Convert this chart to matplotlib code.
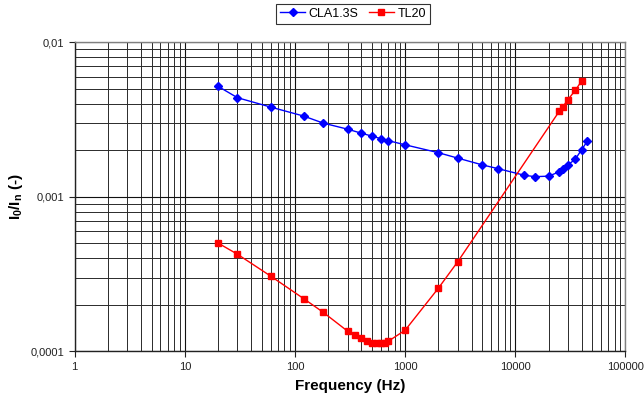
import matplotlib
matplotlib.use("Agg")
import matplotlib.pyplot as plt
from matplotlib.ticker import LogLocator, FixedLocator, FixedFormatter, NullFormatter

plt.rcParams['font.family'] = ['Liberation Sans', 'DejaVu Sans']
plt.rcParams['mathtext.fontset'] = 'custom'
plt.rcParams['mathtext.rm'] = 'Liberation Sans'
plt.rcParams['mathtext.bf'] = 'Liberation Sans:bold'
plt.rcParams['mathtext.it'] = 'Liberation Sans:italic'

# Data
cla_freq = [20, 30, 60, 120, 180, 300, 400, 500, 600, 700, 1000, 2000, 3000,
            5000, 7000, 12000, 15000, 20000, 25000, 27000, 30000, 35000, 40000, 45000]
cla_vals = [0.00519, 0.00438, 0.00381, 0.00333, 0.00300, 0.00274, 0.00258, 0.00247,
            0.00238, 0.00231, 0.00217, 0.00193, 0.00178, 0.00161, 0.00152, 0.00138,
            0.00135, 0.00136, 0.00145, 0.00151, 0.00161, 0.00175, 0.00202, 0.00229]

tl_freq = [20, 30, 60, 120, 180, 300, 350, 400, 450, 500, 550, 600, 650, 700, 1000,
           2000, 3000, 25000, 27000, 30000, 35000, 40000]
tl_vals = [0.000502, 0.000425, 0.000307, 0.000219, 0.000179, 0.000135, 0.000127,
           0.000122, 0.000117, 0.000114, 0.000113, 0.000113, 0.000114, 0.000116,
           0.000137, 0.000256, 0.000380, 0.00357, 0.00383, 0.00425, 0.00489, 0.00562]

x_ticks = [1, 10, 100, 1000, 10000, 100000]
x_labels = ["1", "10", "100", "1000", "10000", "100000"]
y_ticks = [0.0001, 0.001, 0.01]
y_labels = ["0,0001", "0,001", "0,01"]

fig = plt.figure(figsize=(6.44, 4.03), dpi=100)
ax = fig.add_axes([74.7/644, 1-351.3/403, (625.5-74.7)/644, (351.3-42.3)/403])

ax.set_xscale('log')
ax.set_yscale('log')
ax.set_xlim(1, 100000)
ax.set_ylim(0.0001, 0.01)

ax.plot(cla_freq, cla_vals, color='#0000FF', marker='D', markersize=4.5, lw=1.0,
        label='CLA1.3S')
ax.plot(tl_freq, tl_vals, color='#FF0000', marker='s', markersize=4.2, lw=1.0,
        label='TL20')

ax.xaxis.set_major_locator(FixedLocator(x_ticks))
ax.xaxis.set_major_formatter(FixedFormatter(x_labels))
ax.yaxis.set_major_locator(FixedLocator(y_ticks))
ax.yaxis.set_major_formatter(FixedFormatter(y_labels))
ax.xaxis.set_minor_locator(LogLocator(base=10, subs=range(2, 10), numticks=20))
ax.yaxis.set_minor_locator(LogLocator(base=10, subs=range(2, 10), numticks=20))
ax.xaxis.set_minor_formatter(NullFormatter())
ax.yaxis.set_minor_formatter(NullFormatter())

ax.grid(True, which='major', color='#111111', lw=0.8)
ax.grid(True, which='minor', color='#2a2a2a', lw=0.7)
ax.set_axisbelow(True)
ax.tick_params(which='minor', length=0)
ax.tick_params(which='major', length=4, width=0.8, direction='out', labelsize=8,
               colors='#222222')
for s in ax.spines.values():
    s.set_color('#808080')
    s.set_linewidth(1.0)
ax.spines['bottom'].set_color('#222222')
ax.spines['left'].set_color('#222222')

ax.set_xlabel('Frequency (Hz)', fontsize=11, fontweight='bold')
ax.xaxis.set_label_coords(0.5, (351.3-379)/309)
ax.set_ylabel(r'$\mathbf{I_0/I_n}$ (-)', fontsize=11, fontweight='bold')
ax.yaxis.set_label_coords((25-74.7)/550.8, 0.5)

leg = fig.legend(loc='upper center', bbox_to_anchor=(353/644, 1-4/403), ncol=2,
                 fontsize=9, frameon=True, fancybox=False, edgecolor='black',
                 handlelength=2.0, handletextpad=0.3, columnspacing=0.8,
                 borderpad=0.3, borderaxespad=0)
leg.get_frame().set_linewidth(0.8)

fig.savefig('out.png', dpi=100)
